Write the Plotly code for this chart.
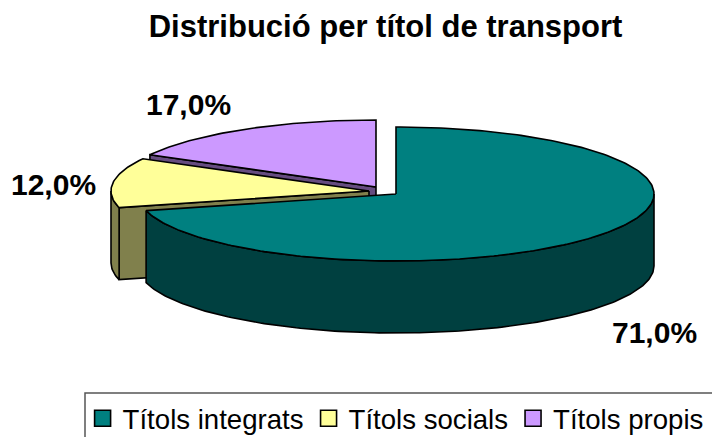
import numpy as np
import plotly.graph_objects as go

categories = ["Títols integrats", "Títols socials", "Títols propis"]
shares = [71.0, 12.0, 17.0]
labels = ["71,0%", "12,0%", "17,0%"]
top_colors = ["#008080", "#FFFF99", "#CC99FF"]
side_colors = ["#004040", "#80804C", "#664C80"]

W, H = 712, 445
RX, RY, DEPTH = 258, 67, 72
CENTERS = [(396, 194), (369, 191), (376, 187)]


def arc(cx, cy, a0, a1, dy=0):
    t = np.radians(np.linspace(a0, a1, max(3, int(abs(a1 - a0)) + 2)))
    return cx + RX * np.sin(t), cy - RY * np.cos(t) + dy


fig = go.Figure()
edges = np.cumsum([0] + shares) * 3.6
LINE = dict(color="black", width=1.6)


def poly(xs, ys, color):
    fig.add_trace(go.Scatter(x=xs, y=ys, mode="lines", fill="toself", fillcolor=color,
                             line=LINE, showlegend=False, hoverinfo="skip"))


for i in [2, 1, 0]:
    a0, a1 = edges[i], edges[i + 1]
    cx, cy = CENTERS[i]
    # radial face at the start of the slice, visible only on the left half
    if 180 < a0 < 360:
        ex, ey = arc(cx, cy, a0, a0)
        poly([cx, ex[0], ex[0], cx, cx], [cy, ey[0], ey[0] + DEPTH, cy + DEPTH, cy], side_colors[i])
    # outer wall: front-facing part of the rim only
    lo, hi = max(a0, 90), min(a1, 270)
    if lo < hi:
        x1, y1 = arc(cx, cy, lo, hi)
        x2, y2 = arc(cx, cy, hi, lo, DEPTH)
        poly(np.r_[x1, x2, x1[0]], np.r_[y1, y2, y1[0]], side_colors[i])
    # top surface
    x, y = arc(cx, cy, a0, a1)
    poly(np.r_[cx, x, cx], np.r_[cy, y, cy], top_colors[i])

for name, color in zip(categories, top_colors):
    fig.add_trace(go.Scatter(x=[None], y=[None], mode="markers", name=name,
                             marker=dict(symbol="square", size=17, color=color,
                                         line=dict(color="black", width=1.6))))

label_pos = [(654, 332), (53, 184), (188, 104)]
for text, (lx, ly) in zip(labels, label_pos):
    fig.add_annotation(x=lx, y=ly, text=f"<b>{text}</b>", showarrow=False,
                       font=dict(family="Liberation Sans", size=30, color="black"))

fig.add_shape(type="rect", x0=85, y0=393, x1=760, y1=480, line=dict(color="#555555", width=1.5),
              fillcolor="white", layer="below")

fig.update_layout(
    width=W, height=H, margin=dict(l=0, r=0, t=0, b=0, autoexpand=False),
    paper_bgcolor="white", plot_bgcolor="white",
    title=dict(text="<b>Distribució per títol de transport</b>", x=0.5415, xanchor="center",
               y=1 - 26 / H, yanchor="middle",
               font=dict(family="Liberation Sans", size=31, color="black")),
    xaxis=dict(range=[0, W], visible=False, fixedrange=True),
    yaxis=dict(range=[H, 0], visible=False, fixedrange=True),
    legend=dict(orientation="h", x=0.116, xanchor="left", y=0.005, yanchor="bottom",
                font=dict(family="Liberation Sans", size=27.6, color="black"),
                bgcolor="rgba(0,0,0,0)", borderwidth=0, tracegroupgap=0),
)
fig.write_html("out.html", config={"displayModeBar": False},
               post_script="document.body.style.margin='0';document.documentElement.style.overflow='hidden';document.body.style.overflow='hidden';")
